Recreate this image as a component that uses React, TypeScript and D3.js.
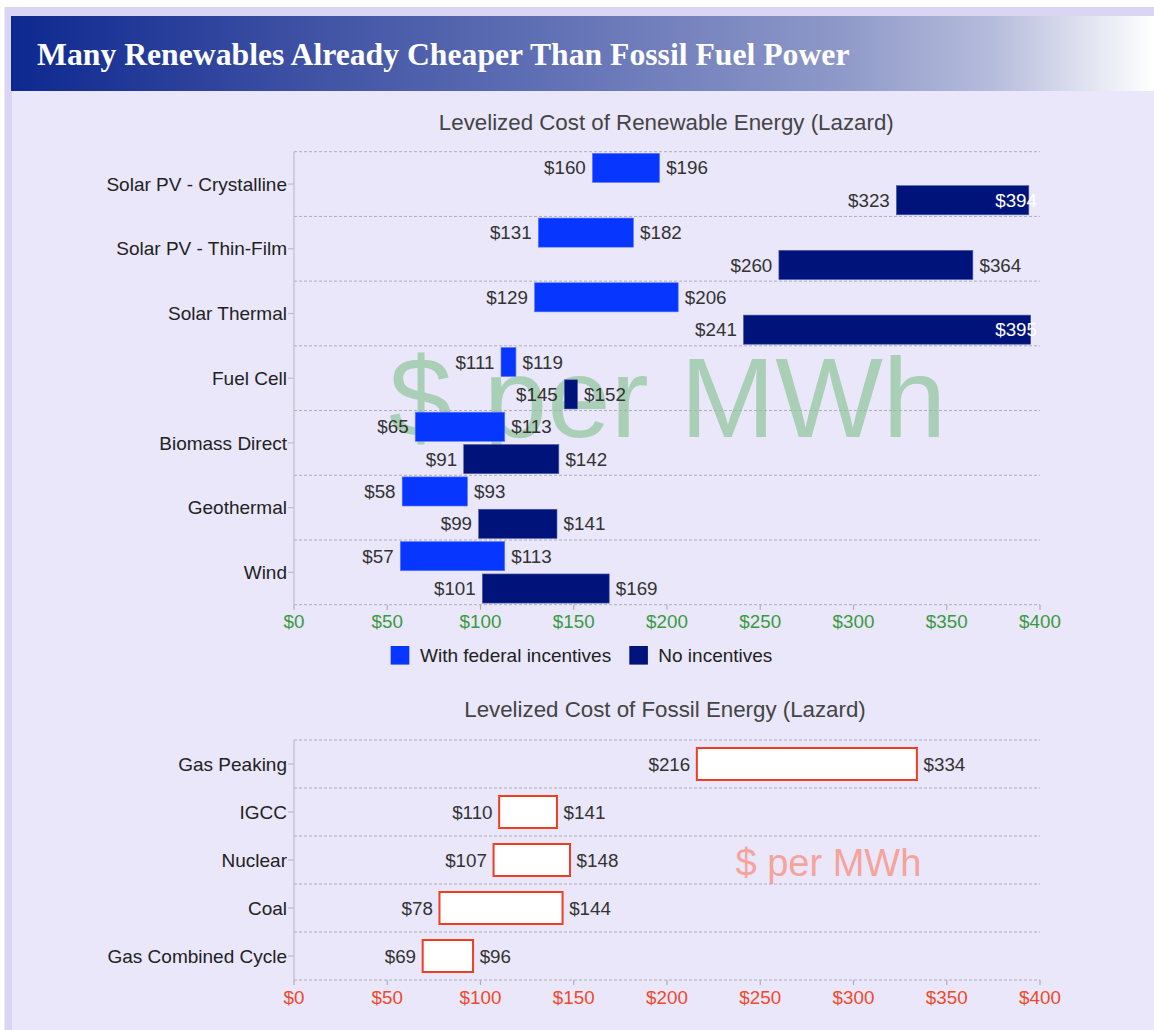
import React from "react";
import * as d3 from "d3";

const renewableCategories = [
  "Solar PV - Crystalline",
  "Solar PV - Thin-Film",
  "Solar Thermal",
  "Fuel Cell",
  "Biomass Direct",
  "Geothermal",
  "Wind",
];
const withIncentivesLow = [160, 131, 129, 111, 65, 58, 57];
const withIncentivesHigh = [196, 182, 206, 119, 113, 93, 113];
const noIncentivesLow = [323, 260, 241, 145, 91, 99, 101];
const noIncentivesHigh = [394, 364, 395, 152, 142, 141, 169];
const seriesNames = ["With federal incentives", "No incentives"];

const fossilCategories = ["Gas Peaking", "IGCC", "Nuclear", "Coal", "Gas Combined Cycle"];
const fossilLow = [216, 110, 107, 78, 69];
const fossilHigh = [334, 141, 148, 144, 96];

const tickValues = [0, 50, 100, 150, 200, 250, 300, 350, 400];

const W = 1154;
const H = 1030;
const FONT = "'Liberation Sans', Arial, Helvetica, sans-serif";
const NUM = 18.8;
const LBL = 19;
const BLUE = "#0636ff";
const NAVY = "#00137a";
const RED = "#ef3e23";
const GRID = "#aeaeb6";

const x = d3.scaleLinear().domain([0, 400]).range([294, 1040]);

const yTop = d3.scaleBand<string>().domain(renewableCategories).range([151.7, 604.7]);
const ySub = d3
  .scaleBand<string>()
  .domain(seriesNames)
  .range([0, yTop.bandwidth()])
  .paddingInner(0.1)
  .paddingOuter(0.05);

const yBot = d3
  .scaleBand<string>()
  .domain(fossilCategories)
  .range([740, 980])
  .paddingInner(1 / 3)
  .paddingOuter(1 / 6);

const fmt = (v: number) => `$${v}`;

function RangeLabels({ lo, hi, yc, inside }: { lo: number; hi: number; yc: number; inside?: boolean }) {
  const hiX = x(hi) + 6.6;
  const overflow = hiX + 2.224 * NUM > 1042;
  return (
    <g fontFamily={FONT} fontSize={NUM}>
      <text x={x(lo) - 6.6} y={yc} dy="0.35em" textAnchor="end" fill="#333">
        {fmt(lo)}
      </text>
      {overflow ? (
        <text x={1037} y={yc} dy="0.35em" textAnchor="end" fill="#ffffff">
          {fmt(hi)}
        </text>
      ) : (
        <text x={hiX} y={yc} dy="0.35em" textAnchor="start" fill="#333">
          {fmt(hi)}
        </text>
      )}
    </g>
  );
}

function Axes({
  yScale,
  categories,
  top,
  bottom,
  tickColor,
  gridLines,
}: {
  yScale: d3.ScaleBand<string>;
  categories: string[];
  top: number;
  bottom: number;
  tickColor: string;
  gridLines: number[];
}) {
  return (
    <g>
      {gridLines.map((gy, i) => (
        <line key={i} x1={x(0)} x2={x(400)} y1={gy} y2={gy} stroke={GRID} strokeWidth={1} strokeDasharray="3,2" />
      ))}
      <line x1={x(0)} x2={x(0)} y1={top} y2={bottom} stroke="#bdbdc4" strokeWidth={1.2} />
      {categories.map((c) => {
        const yc = (yScale(c) as number) + yScale.bandwidth() / 2;
        return (
          <g key={c}>
            <line x1={x(0) - 6} x2={x(0)} y1={yc} y2={yc} stroke="#bdbdc4" strokeWidth={1.2} />
            <text x={287} y={yc} dy="0.35em" textAnchor="end" fontFamily={FONT} fontSize={LBL} fill="#222">
              {c}
            </text>
          </g>
        );
      })}
      {tickValues.map((t) => (
        <g key={t}>
          <line x1={x(t)} x2={x(t)} y1={bottom} y2={bottom + 5} stroke="#aeaeb6" strokeWidth={1.2} />
          <text x={x(t)} y={bottom + 17} dy="0.35em" textAnchor="middle" fontFamily={FONT} fontSize={NUM} fill={tickColor}>
            {fmt(t)}
          </text>
        </g>
      ))}
    </g>
  );
}

export default function App() {
  const topStep = yTop.step();
  const topGrid = renewableCategories.map((c) => yTop(c) as number).concat([604.7]);
  const botStep = yBot.step();
  const botGrid = fossilCategories.map((c, i) => 740 + i * botStep).concat([980]);

  return (
    <div style={{ position: "absolute", left: 0, top: 0 }}>
      <svg width={W} height={H} style={{ display: "block" }}>
        <defs>
          <linearGradient id="titleGrad" x1="0" x2="1" y1="0" y2="0">
            <stop offset="0" stopColor="#0d288f" />
            <stop offset="0.25" stopColor="#3d50a3" />
            <stop offset="0.5" stopColor="#6675b7" />
            <stop offset="0.72" stopColor="#8d98c8" />
            <stop offset="0.86" stopColor="#b6bcdc" />
            <stop offset="1" stopColor="#ffffff" />
          </linearGradient>
        </defs>
        <rect x={0} y={0} width={W} height={H} fill="#ffffff" />
        <rect x={4.5} y={7} width={W} height={H} fill="#d9d5f3" />
        <rect x={12} y={16} width={W} height={H} fill="#eae7fa" />
        <rect x={11} y={16} width={W - 11} height={75} fill="url(#titleGrad)" />
        <text
          x={37}
          y={65}
          fontFamily="'Liberation Serif', 'Times New Roman', serif"
          fontWeight="bold"
          fontSize={31.7}
          fill="#ffffff"
        >
          Many Renewables Already Cheaper Than Fossil Fuel Power
        </text>

        {/* Top chart */}
        <text x={666.3} y={130} textAnchor="middle" fontFamily={FONT} fontSize={22.3} fill="#444">
          Levelized Cost of Renewable Energy (Lazard)
        </text>
        <text x={667.5} y={437} textAnchor="middle" fontFamily={FONT} fontSize={114} fill="#a9cfb6">
          $ per MWh
        </text>
        <Axes
          yScale={yTop}
          categories={renewableCategories}
          top={151.7}
          bottom={604.7}
          tickColor="#3a9a3f"
          gridLines={topGrid}
        />
        {renewableCategories.map((c, i) => {
          const y0 = yTop(c) as number;
          const yb1 = y0 + (ySub(seriesNames[0]) as number);
          const yb2 = y0 + (ySub(seriesNames[1]) as number);
          const bw = ySub.bandwidth();
          return (
            <g key={c}>
              <rect
                x={x(withIncentivesLow[i])}
                y={yb1}
                width={x(withIncentivesHigh[i]) - x(withIncentivesLow[i])}
                height={bw}
                fill={BLUE}
                stroke="#5a78ff"
                strokeWidth={0.6}
              />
              <rect
                x={x(noIncentivesLow[i])}
                y={yb2}
                width={x(noIncentivesHigh[i]) - x(noIncentivesLow[i])}
                height={bw}
                fill={NAVY}
                stroke="#4a5aa8"
                strokeWidth={0.6}
              />
              <RangeLabels lo={withIncentivesLow[i]} hi={withIncentivesHigh[i]} yc={yb1 + bw / 2} />
              <RangeLabels lo={noIncentivesLow[i]} hi={noIncentivesHigh[i]} yc={yb2 + bw / 2} />
            </g>
          );
        })}
        {/* Legend */}
        <g fontFamily={FONT} fontSize={LBL} fill="#222">
          <rect x={390.7} y={646} width={18.6} height={18.6} fill={BLUE} />
          <text x={420} y={655.3} dy="0.35em">
            {seriesNames[0]}
          </text>
          <rect x={629.3} y={646} width={18.6} height={18.6} fill={NAVY} />
          <text x={658.3} y={655.3} dy="0.35em">
            {seriesNames[1]}
          </text>
        </g>

        {/* Bottom chart */}
        <text x={665} y={717} textAnchor="middle" fontFamily={FONT} fontSize={22.3} fill="#444">
          Levelized Cost of Fossil Energy (Lazard)
        </text>
        <text x={828.4} y={876} textAnchor="middle" fontFamily={FONT} fontSize={38} fill="#f4a49c">
          $ per MWh
        </text>
        <Axes
          yScale={yBot}
          categories={fossilCategories}
          top={740}
          bottom={980}
          tickColor="#ef4a2a"
          gridLines={botGrid}
        />
        {fossilCategories.map((c, i) => {
          const yb = yBot(c) as number;
          const bw = yBot.bandwidth();
          return (
            <g key={c}>
              <rect
                x={x(fossilLow[i])}
                y={yb}
                width={x(fossilHigh[i]) - x(fossilLow[i])}
                height={bw}
                fill="#ffffff"
                stroke={RED}
                strokeWidth={2}
              />
              <RangeLabels lo={fossilLow[i]} hi={fossilHigh[i]} yc={yb + bw / 2} />
            </g>
          );
        })}
      </svg>
    </div>
  );
}
